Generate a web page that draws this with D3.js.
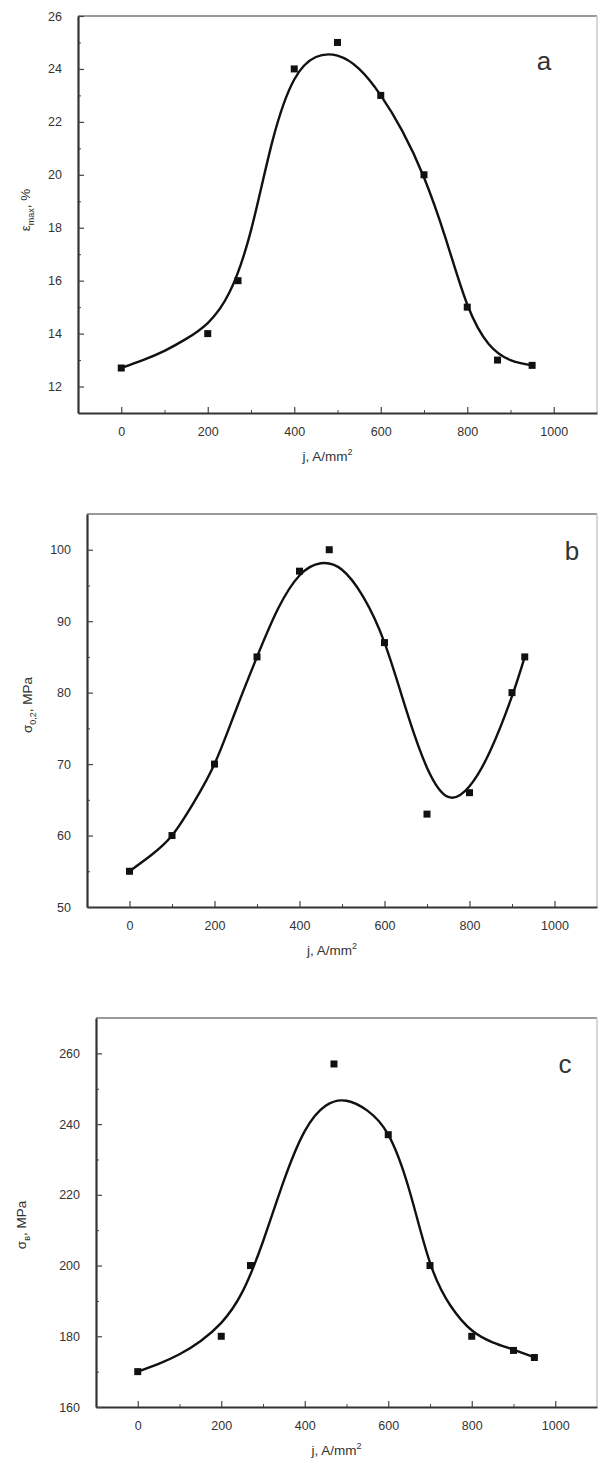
<!DOCTYPE html>
<html>
<head>
<meta charset="utf-8">
<script src="https://cdn.jsdelivr.net/npm/d3@7"></script>
<style>
  html, body { margin: 0; padding: 0; background: #fff; }
  svg { display: block; }
  .tick text { font-family: "Liberation Sans", Arial, sans-serif; font-size: 12.5px; fill: #333; }
  .ttl { font-family: "Liberation Sans", Arial, sans-serif; fill: #333; }
</style>
</head>
<body>
<div id="chart"></div>
<script>
// ---- data ----
const xTicks = [0, 200, 400, 600, 800, 1000];

// panel a: elongation
const jA = [0, 200, 270, 400, 500, 600, 700, 800, 870, 950];
const epsA = [12.7, 14, 16, 24, 25, 23, 20, 15, 13, 12.8];
const fitJA = [0, 50, 100, 150, 200, 250, 300, 350, 400, 450, 500, 550, 600, 650, 700, 750, 800, 850, 900, 950];
const fitA = [12.7, 13.0, 13.35, 13.8, 14.4, 15.55, 17.9, 21.3, 23.6, 24.45, 24.5, 24.0, 23.0, 21.65, 19.9, 17.6, 15.1, 13.6, 13.0, 12.8];
const yTicksA = [12, 14, 16, 18, 20, 22, 24, 26];

// panel b: yield strength
const jB = [0, 100, 200, 300, 400, 470, 600, 700, 800, 900, 930];
const sigB = [55, 60, 70, 85, 97, 100, 87, 63, 66, 80, 85];
const fitJB = [0, 50, 100, 150, 200, 250, 300, 350, 400, 450, 500, 550, 600, 650, 700, 750, 800, 850, 900, 930];
const fitB = [55, 57.2, 60, 64.5, 70, 77.5, 85, 91.8, 96.4, 98.1, 97.2, 93.4, 87, 77.8, 69.5, 65.4, 66.9, 72, 79.5, 85];
const yTicksB = [50, 60, 70, 80, 90, 100];

// panel c: ultimate strength
const jC = [0, 200, 270, 470, 600, 700, 800, 900, 950];
const sigC = [170, 180, 200, 257, 237, 200, 180, 176, 174];
const fitJC = [0, 50, 100, 150, 200, 250, 300, 350, 400, 450, 500, 550, 600, 650, 700, 750, 800, 850, 900, 950];
const fitC = [170, 172.2, 174.9, 178.6, 183.8, 192.4, 206.8, 224, 238, 245.2, 246.6, 243.8, 237, 221.5, 200.8, 188.5, 181.7, 178.3, 176.2, 174];
const yTicksC = [160, 180, 200, 220, 240, 260];

const W = 600, H = 1468;
const svg = d3.select('#chart').append('svg').attr('width', W).attr('height', H);

function drawPanel(cfg) {
  const x = d3.scaleLinear().domain([-100, 1100]).range([cfg.left, cfg.right]);
  const y = d3.scaleLinear().domain(cfg.yDomain).range([cfg.bottom, cfg.top]);
  const g = svg.append('g');

  // light top/right frame
  g.append('line').attr('x1', cfg.left).attr('x2', cfg.right).attr('y1', cfg.top).attr('y2', cfg.top)
    .attr('stroke', '#9a9a9a').attr('stroke-width', 2);
  g.append('line').attr('x1', cfg.right).attr('x2', cfg.right).attr('y1', cfg.top).attr('y2', cfg.bottom)
    .attr('stroke', '#c8c8c8').attr('stroke-width', 1.5);

  // minor ticks
  const minorX = d3.range(100, 1100, 200);
  g.append('g').attr('transform', `translate(0,${cfg.bottom})`)
    .call(d3.axisBottom(x).tickValues(minorX).tickSize(-3).tickFormat(''))
    .call(s => s.select('.domain').remove())
    .selectAll('line').attr('stroke', '#444');
  g.append('g').attr('transform', `translate(${cfg.left},0)`)
    .call(d3.axisLeft(y).tickValues(cfg.minorY).tickSize(-3).tickFormat(''))
    .call(s => s.select('.domain').remove())
    .selectAll('line').attr('stroke', '#444');

  // major axes
  const fmt = d3.format('d');
  const xa = g.append('g').attr('transform', `translate(0,${cfg.bottom})`)
    .call(d3.axisBottom(x).tickValues(xTicks).tickFormat(fmt).tickSize(-6).tickPadding(14).tickSizeOuter(0));
  const ya = g.append('g').attr('transform', `translate(${cfg.left},0)`)
    .call(d3.axisLeft(y).tickValues(cfg.yTicks).tickFormat(fmt).tickSize(-6).tickPadding(16).tickSizeOuter(0));
  [xa, ya].forEach(a => {
    a.select('.domain').attr('stroke', '#333').attr('stroke-width', 2.2);
    a.selectAll('.tick line').attr('stroke', '#444').attr('stroke-width', 1.2);
  });

  // fitted curve
  const line = d3.line().x(d => x(d[0])).y(d => y(d[1])).curve(d3.curveNatural);
  g.append('path').datum(d3.zip(cfg.fitX, cfg.fitY))
    .attr('d', line).attr('fill', 'none').attr('stroke', '#111').attr('stroke-width', 2.4);

  // measured points
  g.selectAll('rect.pt').data(d3.zip(cfg.px, cfg.py)).join('rect')
    .attr('class', 'pt')
    .attr('x', d => x(d[0]) - 3.5).attr('y', d => y(d[1]) - 3.5)
    .attr('width', 7).attr('height', 7).attr('fill', '#111');

  // x title
  const xt = g.append('text').attr('class', 'ttl').attr('text-anchor', 'middle')
    .attr('x', (cfg.left + cfg.right) / 2 - 10).attr('y', cfg.bottom + 48).style('font-size', '13.5px');
  xt.append('tspan').text('j, A/mm');
  xt.append('tspan').attr('dy', -6).style('font-size', '9px').text('2');

  // y title
  const yt = g.append('text').attr('class', 'ttl').attr('text-anchor', 'middle')
    .attr('transform', `translate(${cfg.ytX},${cfg.ytY}) rotate(-90)`).style('font-size', '13.5px');
  yt.append('tspan').text(cfg.ySym);
  yt.append('tspan').attr('dy', 4).style('font-size', '9px').text(cfg.ySub);
  yt.append('tspan').attr('dy', -4).text(cfg.yUnit);

  // panel letter
  g.append('text').attr('class', 'ttl').attr('x', cfg.letterX).attr('y', cfg.letterY)
    .attr('text-anchor', 'middle').style('font-size', '26px').text(cfg.letter);
}

drawPanel({
  left: 78, right: 597, top: 16, bottom: 413, yDomain: [11, 26],
  yTicks: yTicksA, minorY: d3.range(13, 27, 2),
  px: jA, py: epsA, fitX: fitJA, fitY: fitA,
  ySym: 'ε', ySub: 'max', yUnit: ', %', ytX: 30, ytY: 210,
  letter: 'a', letterX: 544, letterY: 70
});

drawPanel({
  left: 87, right: 597, top: 514, bottom: 907, yDomain: [50, 105],
  yTicks: yTicksB, minorY: d3.range(55, 105, 10),
  px: jB, py: sigB, fitX: fitJB, fitY: fitB,
  ySym: 'σ', ySub: '0,2', yUnit: ', MPa', ytX: 32, ytY: 705,
  letter: 'b', letterX: 572, letterY: 560
});

drawPanel({
  left: 96, right: 597, top: 1018, bottom: 1407, yDomain: [160, 270],
  yTicks: yTicksC, minorY: d3.range(170, 270, 20),
  px: jC, py: sigC, fitX: fitJC, fitY: fitC,
  ySym: 'σ', ySub: 'в', yUnit: ', MPa', ytX: 26, ytY: 1225,
  letter: 'c', letterX: 565, letterY: 1073
});
</script>
</body>
</html>
